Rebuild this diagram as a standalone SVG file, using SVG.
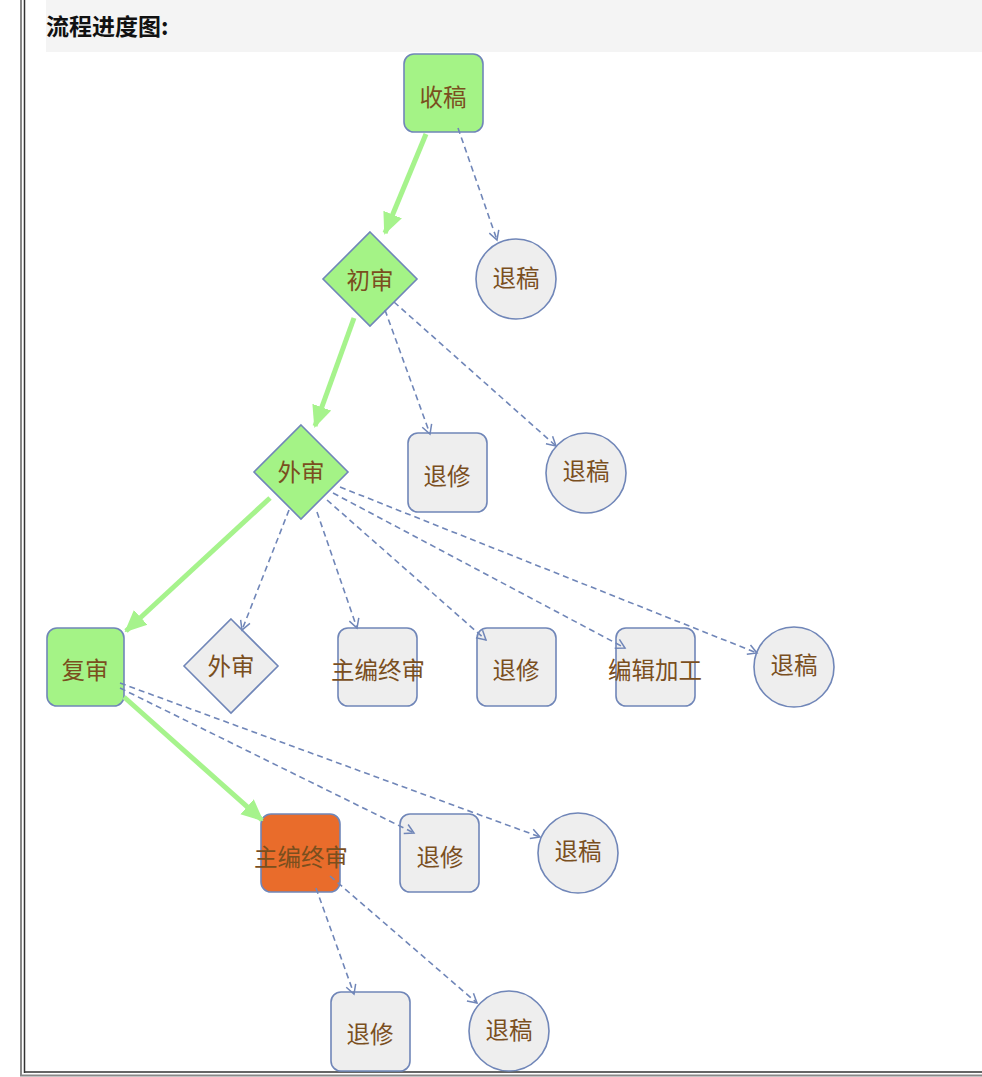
<svg xmlns="http://www.w3.org/2000/svg" width="982" height="1077" viewBox="0 0 982 1077">
<style>
.n{stroke:#7086b8;stroke-width:1.6}
.g{fill:#a4f386}
.e{fill:#eeeeee}
.o{fill:#e96c2b}
.t{font-family:"Noto Sans CJK SC","Noto Sans",sans-serif;font-size:23.5px;fill:#7a4f1e;text-anchor:middle;dominant-baseline:central}
.main{stroke:#a6f38c;stroke-width:5;fill:none;marker-end:url(#ga)}
.d{stroke:#7086b8;stroke-width:1.6;stroke-dasharray:6 4;fill:none;marker-end:url(#da)}
</style>
<defs>
<marker id="ga" markerUnits="userSpaceOnUse" markerWidth="22" markerHeight="22" viewBox="0 0 22 22" refX="20" refY="11" orient="auto">
<path d="M0,1 L22,11 L0,21 z" fill="#a6f38c"/>
</marker>
<marker id="da" markerUnits="userSpaceOnUse" markerWidth="12" markerHeight="12" viewBox="0 0 12 12" refX="10" refY="6" orient="auto">
<path d="M1,1 L10,6 L1,11" fill="none" stroke="#7086b8" stroke-width="1.5"/>
</marker>
</defs>
<rect x="0" y="0" width="982" height="1077" fill="#ffffff"/>
<rect x="46" y="0" width="936" height="52" fill="#f4f4f4"/>
<text x="46" y="25" font-family="&quot;Noto Sans CJK SC&quot;,&quot;Noto Sans&quot;,sans-serif" font-size="23" font-weight="bold" fill="#111" dominant-baseline="central">流程进度图:</text>
<g id="frame">
<line x1="21" y1="0" x2="21" y2="1076" stroke="#888" stroke-width="2"/>
<line x1="24.5" y1="0" x2="24.5" y2="1073" stroke="#333" stroke-width="1.5"/>
<line x1="24" y1="1072" x2="982" y2="1072" stroke="#333" stroke-width="1.5"/>
<line x1="20" y1="1075.5" x2="982" y2="1075.5" stroke="#888" stroke-width="2"/>
</g>
<g id="n1"><rect class="n g" x="404" y="54" width="79" height="78" rx="10"/><text class="t" x="443" y="96">收稿</text></g>
<g id="n2"><circle class="n e" cx="516" cy="279" r="40"/><text class="t" x="516" y="277">退稿</text></g>
<g id="n3"><polygon class="n g" points="370,232 417,279 370,326 323,279"/><text class="t" x="370" y="279">初审</text></g>
<g id="n4"><polygon class="n g" points="301,425 348,472 301,519 254,472"/><text class="t" x="301" y="471">外审</text></g>
<g id="n5"><rect class="n e" x="408" y="433" width="79" height="79" rx="10"/><text class="t" x="447" y="475">退修</text></g>
<g id="n6"><circle class="n e" cx="586" cy="473" r="40"/><text class="t" x="586" y="470">退稿</text></g>
<g id="n7"><rect class="n g" x="47" y="628" width="77" height="78" rx="10"/><text class="t" x="85" y="669">复审</text></g>
<g id="n8"><polygon class="n e" points="231,619 278,666 231,713 184,666"/><text class="t" x="231" y="665">外审</text></g>
<g id="n9"><rect class="n e" x="338" y="628" width="79" height="78" rx="10"/><text class="t" x="378" y="669">主编终审</text></g>
<g id="n10"><rect class="n e" x="477" y="628" width="79" height="78" rx="10"/><text class="t" x="516" y="669">退修</text></g>
<g id="n11"><rect class="n e" x="616" y="628" width="79" height="78" rx="10"/><text class="t" x="655" y="669">编辑加工</text></g>
<g id="n12"><circle class="n e" cx="794" cy="667" r="40"/><text class="t" x="794" y="664">退稿</text></g>
<g id="n13"><rect class="n o" x="261" y="814" width="79" height="78" rx="10"/><text class="t" x="301" y="856">主编终审</text></g>
<g id="n14"><rect class="n e" x="400" y="814" width="79" height="78" rx="10"/><text class="t" x="440" y="856">退修</text></g>
<g id="n15"><circle class="n e" cx="578" cy="853" r="40"/><text class="t" x="578" y="850">退稿</text></g>
<g id="n16"><rect class="n e" x="331" y="992" width="79" height="79" rx="10"/><text class="t" x="370" y="1033">退修</text></g>
<g id="n17"><circle class="n e" cx="509" cy="1031" r="40"/><text class="t" x="509" y="1029">退稿</text></g>
<g id="connectors">
<path class="main" d="M426,134 L385,233"/>
<path class="main" d="M354,318 L315,426"/>
<path class="main" d="M270,498 L126,631"/>
<path class="main" d="M124,697 L262,820"/>
<path class="d" d="M458,128 L497,240"/>
<path class="d" d="M385,310 L430,434"/>
<path class="d" d="M394,302 L556,446"/>
<path class="d" d="M289,510 L242,630"/>
<path class="d" d="M317,512 L357,628"/>
<path class="d" d="M327,500 L486,640"/>
<path class="d" d="M333,493 L625,648"/>
<path class="d" d="M340,487 L757,653"/>
<path class="d" d="M120,688 L414,833"/>
<path class="d" d="M120,683 L540,837"/>
<path class="d" d="M316,888 L354,994"/>
<path class="d" d="M330,876 L477,1003"/>
</g>
</svg>
